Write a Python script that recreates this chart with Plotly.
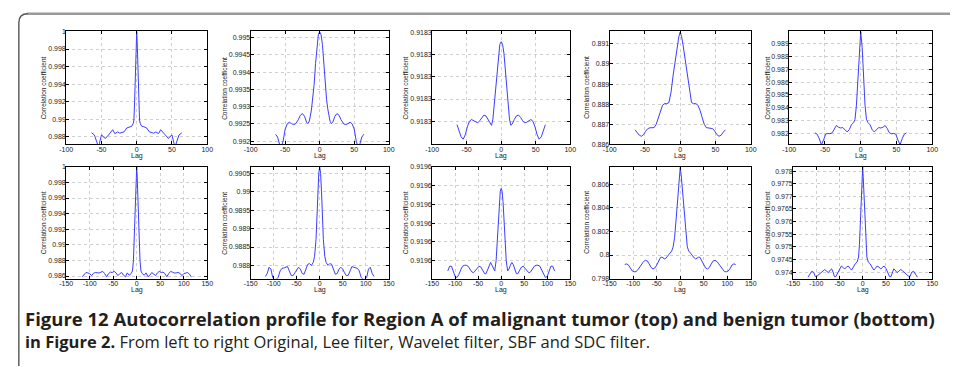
import plotly.graph_objects as go

W, H = 956, 367

# ---------------- data ----------------
lag1 = [-64, -60, -57, -55, -53, -50, -47, -45, -42, -38, -34, -31, -27, -24, -21, -18, -14, -10, -7, -5, -4, -3, -2, -1, 0,
        1, 2, 3, 4, 5, 7, 10, 14, 18, 21, 24, 27, 31, 34, 38, 42, 45, 47, 50, 53, 55, 57, 60, 64]
val1 = [0.98845, 0.98820, 0.98750, 0.98700, 0.98720, 0.98820, 0.98800, 0.98780, 0.98800, 0.98845, 0.98880, 0.98835,
        0.98855, 0.98840, 0.98845, 0.98855, 0.98900, 0.98915, 0.98920, 0.98950, 0.98990, 0.99200, 0.99500, 0.99800, 1.00000,
        0.99800, 0.99500, 0.99200, 0.98990, 0.98950, 0.98920, 0.98915, 0.98900, 0.98855, 0.98845, 0.98840, 0.98855,
        0.98835, 0.98880, 0.98845, 0.98800, 0.98780, 0.98800, 0.98820, 0.98720, 0.98700, 0.98750, 0.98820, 0.98845]

lag2 = [-64, -61, -58, -56, -53, -50, -47, -44, -41, -38, -35, -31, -28, -25, -22, -19, -17, -15, -12, -10, -8, -6, -4, -2, -1, 0,
        1, 2, 4, 6, 8, 10, 12, 15, 17, 19, 22, 25, 28, 31, 35, 38, 41, 44, 47, 50, 53, 56, 58, 61, 64]
val2 = [0.99220, 0.99212, 0.99190, 0.99180, 0.99200, 0.99235, 0.99250, 0.99255, 0.99251, 0.99248, 0.99250, 0.99262,
        0.99275, 0.99280, 0.99272, 0.99255, 0.99251, 0.99258, 0.99290, 0.99320, 0.99365, 0.99425, 0.99480, 0.99508,
        0.99514, 0.99516,
        0.99514, 0.99508, 0.99480, 0.99425, 0.99365, 0.99320, 0.99290, 0.99258, 0.99251, 0.99255, 0.99272, 0.99280,
        0.99275, 0.99262, 0.99250, 0.99248, 0.99251, 0.99255, 0.99250, 0.99235, 0.99200, 0.99180, 0.99190, 0.99212, 0.99220]

lag3 = [-64, -61, -58, -55, -52, -49, -46, -43, -40, -37, -34, -31, -28, -25, -22, -19, -16, -14, -12, -10, -8, -6, -4, -2, 0,
        2, 4, 6, 8, 10, 12, 14, 16, 19, 22, 25, 28, 31, 34, 37, 40, 43, 46, 49, 52, 55, 58, 61, 64]
val3 = [0.9182985, 0.9182960, 0.9182930, 0.9182920, 0.9182940, 0.9182975, 0.9183000, 0.9183008, 0.9183003, 0.9182996,
        0.9182993, 0.9183003, 0.9183018, 0.9183028, 0.9183024, 0.9183008, 0.9182988, 0.9182982, 0.9183010, 0.9183080,
        0.9183160, 0.9183240, 0.9183305, 0.9183345, 0.9183357,
        0.9183345, 0.9183305, 0.9183240, 0.9183160, 0.9183080, 0.9183010, 0.9182982, 0.9182988, 0.9183008, 0.9183024,
        0.9183028, 0.9183018, 0.9183003, 0.9182993, 0.9182996, 0.9183003, 0.9183008, 0.9183000, 0.9182975, 0.9182940,
        0.9182920, 0.9182930, 0.9182960, 0.9182985]

lag4 = [-64, -61, -58, -55, -52, -49, -46, -43, -40, -37, -34, -31, -28, -25, -22, -19, -16, -13, -10, -8, -6, -4, -2, 0,
        2, 4, 6, 8, 10, 13, 16, 19, 22, 25, 28, 31, 34, 37, 40, 43, 46, 49, 52, 55, 58, 61, 64]
val4 = [0.88672, 0.88660, 0.88645, 0.88640, 0.88648, 0.88665, 0.88678, 0.88682, 0.88681, 0.88683, 0.88700, 0.88735,
        0.88770, 0.88795, 0.88803, 0.88802, 0.88808, 0.88860, 0.88945, 0.89000, 0.89045, 0.89095, 0.89135, 0.89160,
        0.89135, 0.89095, 0.89045, 0.89000, 0.88945, 0.88860, 0.88808, 0.88802, 0.88803, 0.88795, 0.88770, 0.88735,
        0.88700, 0.88683, 0.88681, 0.88682, 0.88678, 0.88665, 0.88648, 0.88640, 0.88645, 0.88660, 0.88672]

lag5 = [-64, -61, -58, -55, -52, -49, -46, -43, -40, -37, -34, -31, -28, -25, -22, -19, -16, -13, -10, -8, -6, -4, -2, 0,
        2, 4, 6, 8, 10, 13, 16, 19, 22, 25, 28, 31, 34, 37, 40, 43, 46, 49, 52, 55, 58, 61, 64]
val5 = [0.98205, 0.98195, 0.98160, 0.98112, 0.98150, 0.98195, 0.98200, 0.98198, 0.98205, 0.98240, 0.98262, 0.98248,
        0.98243, 0.98246, 0.98230, 0.98212, 0.98230, 0.98268, 0.98285, 0.98310, 0.98420, 0.98640, 0.98870, 0.98994,
        0.98870, 0.98640, 0.98420, 0.98310, 0.98285, 0.98268, 0.98230, 0.98212, 0.98230, 0.98246, 0.98243, 0.98248,
        0.98262, 0.98240, 0.98205, 0.98198, 0.98200, 0.98195, 0.98150, 0.98112, 0.98160, 0.98195, 0.98205]

lag6 = [-116, -112, -108, -104, -100, -96, -92, -88, -84, -80, -76, -72, -68, -64, -60, -56, -52, -48, -44, -40, -36, -32,
        -28, -24, -20, -16, -12, -9, -7, -5, -3, -1, 0,
        1, 3, 5, 7, 9, 12, 16, 20, 24, 28, 32, 36, 40, 44, 48, 52, 56, 60, 64, 68, 72, 76, 80, 84, 88, 92, 96, 100, 104,
        108, 112, 116]
val6 = [0.98590, 0.98625, 0.98645, 0.98640, 0.98630, 0.98605, 0.98635, 0.98645, 0.98640, 0.98638, 0.98650, 0.98658,
        0.98630, 0.98590, 0.98630, 0.98650, 0.98645, 0.98660, 0.98640, 0.98605, 0.98630, 0.98645, 0.98610, 0.98590,
        0.98640, 0.98610, 0.98630, 0.98665, 0.98800, 0.99100, 0.99500, 0.99880, 1.00000,
        0.99880, 0.99500, 0.99100, 0.98800, 0.98665, 0.98630, 0.98610, 0.98640, 0.98590, 0.98610, 0.98645, 0.98630,
        0.98605, 0.98640, 0.98660, 0.98645, 0.98650, 0.98630, 0.98590, 0.98630, 0.98658, 0.98650, 0.98638, 0.98640,
        0.98645, 0.98635, 0.98605, 0.98630, 0.98640, 0.98645, 0.98625, 0.98590]

lag7 = [-118, -114, -110, -106, -102, -98, -94, -90, -86, -82, -78, -74, -70, -66, -62, -58, -54, -50, -46, -42, -38, -34,
        -30, -26, -22, -18, -14, -11, -8, -6, -4, -2, 0,
        2, 4, 6, 8, 11, 14, 18, 22, 26, 30, 34, 38, 42, 46, 50, 54, 58, 62, 66, 70, 74, 78, 82, 86, 90, 94, 98, 102, 106,
        110, 114, 118]
val7 = [0.98770, 0.98778, 0.98795, 0.98790, 0.98767, 0.98762, 0.98762, 0.98768, 0.98785, 0.98792, 0.98793, 0.98795,
        0.98797, 0.98785, 0.98773, 0.98772, 0.98780, 0.98790, 0.98795, 0.98790, 0.98778, 0.98776, 0.98788, 0.98803,
        0.98805, 0.98800, 0.98808, 0.98825, 0.98870, 0.98930, 0.99000, 0.99050, 0.99068,
        0.99050, 0.99000, 0.98930, 0.98870, 0.98825, 0.98808, 0.98800, 0.98805, 0.98803, 0.98788, 0.98776, 0.98778,
        0.98790, 0.98795, 0.98790, 0.98780, 0.98772, 0.98773, 0.98785, 0.98797, 0.98795, 0.98793, 0.98792, 0.98785,
        0.98768, 0.98762, 0.98762, 0.98767, 0.98790, 0.98795, 0.98778, 0.98770]

lag8 = [-116, -112, -108, -104, -100, -96, -92, -88, -84, -80, -76, -72, -68, -64, -60, -56, -52, -48, -44, -40, -36, -33,
        -30, -26, -23, -20, -17, -14, -11, -8, -6, -4, -2, 0,
        2, 4, 6, 8, 11, 14, 17, 20, 23, 26, 30, 33, 36, 40, 44, 48, 52, 56, 60, 64, 68, 72, 76, 80, 84, 88, 92, 96, 100,
        104, 108, 112, 116]
val8 = [0.9195589, 0.9195594, 0.9195594, 0.9195588, 0.9195583, 0.9195582, 0.9195585, 0.9195590, 0.9195594, 0.9195595,
        0.9195595, 0.9195594, 0.9195591, 0.9195588, 0.9195587, 0.9195589, 0.9195592, 0.9195594, 0.9195593, 0.9195589,
        0.9195586, 0.9195586, 0.9195590, 0.9195596, 0.9195598, 0.9195595, 0.9195591, 0.9195589, 0.9195600, 0.9195628,
        0.9195645, 0.9195663, 0.9195674, 0.9195677,
        0.9195674, 0.9195663, 0.9195645, 0.9195628, 0.9195600, 0.9195589, 0.9195591, 0.9195595, 0.9195598, 0.9195596,
        0.9195590, 0.9195586, 0.9195586, 0.9195589, 0.9195593, 0.9195594, 0.9195592, 0.9195589, 0.9195587, 0.9195588,
        0.9195591, 0.9195594, 0.9195595, 0.9195595, 0.9195594, 0.9195590, 0.9195585, 0.9195582, 0.9195583, 0.9195588,
        0.9195594, 0.9195594, 0.9195589]

lag9 = [-118, -114, -110, -106, -102, -98, -94, -90, -86, -82, -78, -74, -70, -66, -62, -58, -54, -50, -46, -42, -39, -36,
        -33, -30, -26, -22, -18, -15, -12, -9, -6, -4, -2, 0,
        2, 4, 6, 9, 12, 15, 18, 22, 26, 30, 33, 36, 39, 42, 46, 50, 54, 58, 62, 66, 70, 74, 78, 82, 86, 90, 94, 98, 102,
        106, 110, 114, 118]
val9 = [0.79920, 0.79925, 0.79915, 0.79885, 0.79865, 0.79858, 0.79860, 0.79875, 0.79900, 0.79925, 0.79945, 0.79955,
        0.79950, 0.79925, 0.79895, 0.79882, 0.79890, 0.79915, 0.79950, 0.79980, 0.79982, 0.79972, 0.79967, 0.79975,
        0.79995, 0.80012, 0.80035, 0.80070, 0.80150, 0.80290, 0.80460, 0.80580, 0.80680, 0.80742,
        0.80680, 0.80580, 0.80460, 0.80290, 0.80150, 0.80070, 0.80035, 0.80012, 0.79995, 0.79975, 0.79967, 0.79972,
        0.79982, 0.79980, 0.79950, 0.79915, 0.79890, 0.79882, 0.79895, 0.79925, 0.79950, 0.79955, 0.79945, 0.79925,
        0.79900, 0.79875, 0.79860, 0.79858, 0.79865, 0.79885, 0.79915, 0.79925, 0.79920]

lag10 = [-118, -114, -110, -106, -102, -98, -94, -90, -86, -82, -78, -74, -70, -67, -64, -61, -58, -54, -50, -46, -42, -39,
         -35, -31, -27, -24, -20, -16, -12, -9, -7, -5, -3, -1, 0,
         1, 3, 5, 7, 9, 12, 16, 20, 24, 27, 31, 35, 39, 42, 46, 50, 54, 58, 61, 64, 67, 70, 74, 78, 82, 86, 90, 94, 98,
         102, 106, 110, 114, 118]
val10 = [0.97380, 0.97390, 0.97403, 0.97400, 0.97382, 0.97385, 0.97392, 0.97398, 0.97405, 0.97410, 0.97404, 0.97398,
         0.97408, 0.97413, 0.97400, 0.97382, 0.97382, 0.97398, 0.97415, 0.97424, 0.97418, 0.97412, 0.97420, 0.97424,
         0.97414, 0.97408, 0.97420, 0.97433, 0.97440, 0.97460, 0.97510, 0.97600, 0.97690, 0.97780, 0.97817,
         0.97780, 0.97690, 0.97600, 0.97510, 0.97460, 0.97440, 0.97433, 0.97420, 0.97408, 0.97414, 0.97424, 0.97420,
         0.97412, 0.97418, 0.97424, 0.97415, 0.97398, 0.97382, 0.97382, 0.97400, 0.97413, 0.97408, 0.97398, 0.97404,
         0.97410, 0.97405, 0.97398, 0.97392, 0.97385, 0.97382, 0.97400, 0.97403, 0.97390, 0.97380]

lags = [lag1, lag2, lag3, lag4, lag5, lag6, lag7, lag8, lag9, lag10]
vals = [val1, val2, val3, val4, val5, val6, val7, val8, val9, val10]

# axis ranges and tick labels
xticks_top = [-100, -50, 0, 50, 100]
xticks_bot = [-150, -100, -50, 0, 50, 100, 150]

yranges = [
    [0.98714, 1.0],
    [0.99191, 0.99518],
    [0.9182897, 0.9183403],
    [0.886, 0.89162],
    [0.98116, 0.98994],
    [0.98566, 1.0],
    [0.98764, 0.99068],
    [0.91955807, 0.91957],
    [0.798, 0.80747],
    [0.97374, 0.97817],
]
yticks = [
    [0.988, 0.990, 0.992, 0.994, 0.996, 0.998, 1.0],
    [0.992, 0.9925, 0.993, 0.9935, 0.994, 0.9945, 0.995],
    [0.91830, 0.91831, 0.91832, 0.91833, 0.91834],
    [0.886, 0.887, 0.888, 0.889, 0.890, 0.891],
    [0.982, 0.983, 0.984, 0.985, 0.986, 0.987, 0.988, 0.989],
    [0.986, 0.988, 0.990, 0.992, 0.994, 0.996, 0.998, 1.0],
    [0.988, 0.9885, 0.989, 0.9895, 0.990, 0.9905],
    [0.919560, 0.919562, 0.919564, 0.919566, 0.919568, 0.919570],
    [0.798, 0.800, 0.802, 0.804, 0.806],
    [0.974, 0.9745, 0.975, 0.9755, 0.976, 0.9765, 0.977, 0.9775, 0.978],
]
ytexts = [
    ["0.988", "0.99", "0.992", "0.994", "0.996", "0.998", "1"],
    ["0.992", "0.9925", "0.993", "0.9935", "0.994", "0.9945", "0.995"],
    ["0.9183", "0.9183", "0.9183", "0.9183", "0.9183"],
    ["0.886", "0.887", "0.888", "0.889", "0.89", "0.891"],
    ["0.982", "0.983", "0.984", "0.985", "0.986", "0.987", "0.988", "0.989"],
    ["0.986", "0.988", "0.99", "0.992", "0.994", "0.996", "0.998", "1"],
    ["0.988", "0.9885", "0.989", "0.9895", "0.99", "0.9905"],
    ["0.9196", "0.9196", "0.9196", "0.9196", "0.9196", "0.9196"],
    ["0.798", "0.8", "0.802", "0.804", "0.806"],
    ["0.974", "0.9745", "0.975", "0.9755", "0.976", "0.9765", "0.977", "0.9775", "0.978"],
]

x_label = "Lag"
y_label = "Correlation coefficient"
caption_bold = "Figure 12 Autocorrelation profile for Region A of malignant tumor (top) and benign tumor (bottom)"
caption2_bold = "in Figure 2."
caption2_rest = " From left to right Original, Lee filter, Wavelet filter, SBF and SDC filter."

# ---------------- layout (pixels) ----------------
col_px = [(60, 203), (247, 387), (431, 571), (611, 754), (793, 938),
          (60, 203), (247, 387), (431, 571), (611, 754), (797, 938)]
row_px = [(28, 143)] * 5 + [(166, 280)] * 5
ytitle_x = [37, 221, 404, 588, 771] * 2
lag_y = [155, 155, 155, 155, 155, 292, 292, 292, 292, 292]


def px(x):
    return x / W


def py(y):
    return 1 - y / H


fig = go.Figure()
layout = dict(width=W, height=H, margin=dict(l=0, r=0, t=0, b=0),
              paper_bgcolor="white", plot_bgcolor="white", showlegend=False)
annotations = []
tickfont = dict(family="Liberation Sans, Arial", size=7, color="#222")

for i in range(10):
    n = i + 1
    xa = "x" if n == 1 else f"x{n}"
    ya = "y" if n == 1 else f"y{n}"
    fig.add_trace(go.Scatter(x=lags[i], y=vals[i], mode="lines", xaxis=xa, yaxis=ya,
                             line=dict(color="rgb(60,60,255)", width=1), hoverinfo="skip"))
    x0, x1 = col_px[i]
    y0, y1 = row_px[i]
    xt = xticks_top if i < 5 else xticks_bot
    common = dict(showline=True, linecolor="black", linewidth=1, mirror="ticks",
                  ticks="inside", ticklen=3, tickcolor="black", tickwidth=1,
                  showgrid=True, gridcolor="#cfcfcf", gridwidth=1, griddash="dot",
                  zeroline=False, tickfont=tickfont, fixedrange=True)
    layout["xaxis" if n == 1 else f"xaxis{n}"] = dict(
        domain=[px(x0), px(x1)], anchor=ya, range=[xt[0], xt[-1]],
        tickmode="array", tickvals=xt, ticktext=[str(v) for v in xt],
        ticklabelstandoff=-2, **common)
    layout["yaxis" if n == 1 else f"yaxis{n}"] = dict(
        domain=[py(y1), py(y0)], anchor=xa, range=yranges[i],
        tickmode="array", tickvals=yticks[i], ticktext=ytexts[i],
        ticklabelstandoff=-2, **common)
    annotations.append(dict(text=x_label, xref="paper", yref="paper", x=px((x0 + x1) / 2), y=py(lag_y[i]),
                            xanchor="center", yanchor="middle", showarrow=False,
                            font=dict(family="Liberation Sans, Arial", size=7, color="#222")))
    annotations.append(dict(text=y_label, xref="paper", yref="paper", x=px(ytitle_x[i]), y=py((y0 + y1) / 2),
                            xanchor="center", yanchor="middle", showarrow=False, textangle=-90,
                            font=dict(family="Liberation Sans, Arial", size=6.5, color="#222")))

annotations.append(dict(text="<b>" + caption_bold + "</b>", xref="paper", yref="paper", x=px(16), y=py(321),
                        xanchor="left", yanchor="middle", showarrow=False,
                        font=dict(family="Open Sans", size=18.5, color="#231f20")))
annotations.append(dict(text="<b>" + caption2_bold + "</b>" + caption2_rest, xref="paper", yref="paper",
                        x=px(16), y=py(344), xanchor="left", yanchor="middle", showarrow=False,
                        font=dict(family="Open Sans", size=16.5, color="#231f20")))
layout["annotations"] = annotations

# frame with rounded top-left corner
shapes = [
    dict(type="line", xref="paper", yref="paper", x0=px(20), x1=px(956), y0=py(10), y1=py(10),
         line=dict(color="#9a9a9a", width=2.5)),
    dict(type="path", xref="paper", yref="paper",
         path=f"M {px(12)},{py(H + 2)} L {px(12)},{py(19)} Q {px(12)},{py(10)} {px(21)},{py(10)}",
         line=dict(color="#555", width=1.4)),
]
layout["shapes"] = shapes
fig.update_layout(**layout)
fig.write_html("out.html")
